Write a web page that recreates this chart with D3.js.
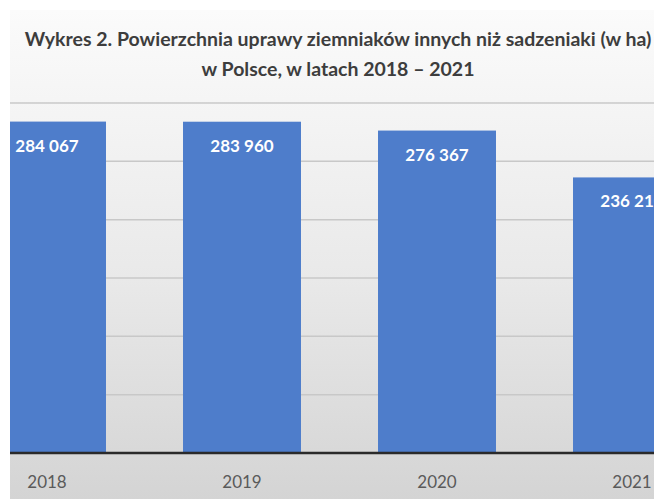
<!DOCTYPE html>
<html>
<head>
<meta charset="utf-8">
<script src="https://cdn.jsdelivr.net/npm/d3@7"></script>
<style>
  body { margin: 0; background: #fff; }
  svg { display: block; }
</style>
</head>
<body>
<div class="graph"></div>
<script>
// data
var years = ['2018', '2019', '2020', '2021'];
var area = [284067, 283960, 276367, 236210];
var gridTicks = [50000, 100000, 150000, 200000, 250000, 300000];
var titleLines = ['Wykres 2. Powierzchnia uprawy ziemniaków innych niż sadzeniaki (w ha)',
                  'w Polsce, w latach 2018 – 2021'];

var width = 654, height = 499;
var baseY = 453;

var svg = d3.select('.graph')
    .append('svg')
    .attr('width', width)
    .attr('height', height)

var defs = svg.append('defs');
var grad = defs.append('linearGradient')
    .attr('id', 'bg')
    .attr('x1', 0).attr('y1', 0).attr('x2', 0).attr('y2', 1)
grad.append('stop').attr('offset', '0%').attr('stop-color', '#fbfbfb')
grad.append('stop').attr('offset', '55%').attr('stop-color', '#e9e9e9')
grad.append('stop').attr('offset', '100%').attr('stop-color', '#d4d4d4')

defs.append('clipPath')
    .attr('id', 'area')
    .append('rect')
    .attr('x', 10).attr('y', 10)
    .attr('width', width - 10).attr('height', height - 10)

// background (chart is cropped, white strip on top/left)
svg.append('rect')
    .attr('x', 10).attr('y', 10)
    .attr('width', width - 10).attr('height', height - 10)
    .style('fill', 'url(#bg)')

var canvas = svg.append('g').attr('clip-path', 'url(#area)')

var x = d3.scaleBand()
    .domain(years)
    .range([-50.5, 729.5])
    .paddingInner(0.395)
    .paddingOuter(0.1975)

var y = d3.scaleLinear()
    .domain([0, 300000])
    .range([baseY, 103])

// gridlines
canvas.selectAll('.grid')
    .data(gridTicks)
    .enter().append('line')
    .attr('x1', 10).attr('x2', width)
    .attr('y1', d => y(d)).attr('y2', d => y(d))
    .style('stroke', '#c8c8c8')
    .style('stroke-width', 1.5)

// bars
canvas.selectAll('.bar')
    .data(area)
    .enter().append('rect')
    .attr('x', (d, i) => x(years[i]))
    .attr('y', d => y(d))
    .attr('width', x.bandwidth())
    .attr('height', d => baseY - y(d))
    .style('fill', '#4e7dcb')

// axis line + year labels
var xAxis = canvas.append('g')
    .attr('transform', 'translate(0,' + baseY + ')')
    .call(d3.axisBottom(x).tickSize(0).tickPadding(23))
xAxis.select('.domain')
    .attr('d', 'M10,0H' + width)
    .style('stroke', '#2a2a2a')
    .style('stroke-width', 2.5)
xAxis.selectAll('text')
    .style('font-family', 'Lato, sans-serif')
    .style('font-size', '17px')
    .style('fill', '#5a5a5a')

// value labels
canvas.selectAll('.label')
    .data(area)
    .enter().append('text')
    .attr('x', (d, i) => x(years[i]) + x.bandwidth() / 2)
    .attr('y', d => y(d) + 30)
    .attr('text-anchor', 'middle')
    .style('font-family', 'Lato, sans-serif')
    .style('font-weight', 'bold')
    .style('font-size', '17px')
    .style('fill', '#ffffff')
    .text(d => d3.format(',')(d).replace(',', ' '))

// title
canvas.selectAll('.title')
    .data(titleLines)
    .enter().append('text')
    .attr('x', 338)
    .attr('y', (d, i) => 46 + i * 30)
    .attr('text-anchor', 'middle')
    .style('font-family', 'Lato, sans-serif')
    .style('font-weight', 'bold')
    .style('font-size', '19.5px')
    .style('fill', '#3d3d3d')
    .text(d => d)
</script>
</body>
</html>
